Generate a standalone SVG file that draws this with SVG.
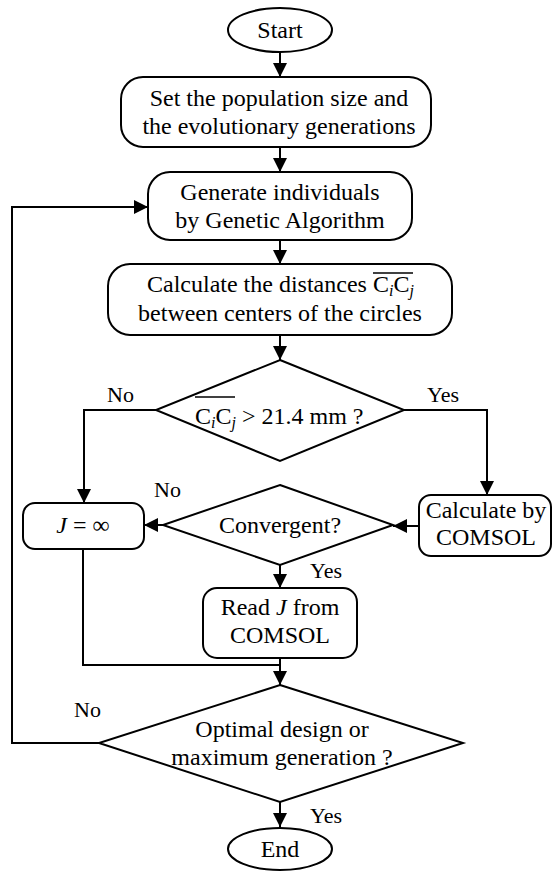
<svg xmlns="http://www.w3.org/2000/svg" width="553" height="871" viewBox="0 0 553 871">
<defs>
<marker id="ah" markerUnits="userSpaceOnUse" markerWidth="14" markerHeight="14" refX="14" refY="7" orient="auto">
<path d="M0,0 L14,7 L0,14 Z" fill="#000"/>
</marker>
<style>
.s{fill:#fff;stroke:#000;stroke-width:2}
.c{fill:none;stroke:#000;stroke-width:2}
.a{fill:none;stroke:#000;stroke-width:2;marker-end:url(#ah)}
text{font-family:"Liberation Serif","Times New Roman",serif;font-size:24px;fill:#000}
.m{text-anchor:middle}
.l{font-size:22px}
.sub{font-style:italic;font-size:16px}
.ol{stroke:#000;stroke-width:1.5}
</style>
</defs>
<rect width="553" height="871" fill="#fff"/>
<g id="connectors">
<path class="a" d="M280,52 V77"/>
<path class="a" d="M280,147 V172"/>
<path class="a" d="M280,240 V264"/>
<path class="a" d="M280,335 V360"/>
<path class="a" d="M156,410 H84 V503"/>
<path class="a" d="M404,410 H487 V495"/>
<path class="a" d="M419,526 H393"/>
<path class="a" d="M163,525 H144"/>
<path class="a" d="M280,565 V588"/>
<path class="c" d="M83,549 V665 H280"/>
<path class="a" d="M280,658 V685"/>
<path class="a" d="M99,743 H12 V207 H148"/>
<path class="a" d="M280,802 V827"/>
<text class="l" x="107" y="402">No</text>
<text class="l" x="427" y="402">Yes</text>
<text class="l" x="154" y="497">No</text>
<text class="l" x="310" y="578">Yes</text>
<text class="l" x="74" y="717">No</text>
<text class="l" x="310" y="823">Yes</text>
</g>
<g id="start">
<ellipse class="s" cx="280" cy="30" rx="52" ry="22"/>
<text class="m" x="280" y="38">Start</text>
</g>
<g id="setpop">
<rect class="s" x="121" y="77" width="310" height="70" rx="22"/>
<text class="m" x="279" y="106">Set the population size and</text>
<text class="m" x="279" y="134">the evolutionary generations</text>
</g>
<g id="generate">
<rect class="s" x="148" y="172" width="264" height="68" rx="22"/>
<text class="m" x="280" y="200">Generate individuals</text>
<text class="m" x="280" y="228">by Genetic Algorithm</text>
</g>
<g id="calcdist">
<rect class="s" x="108" y="264" width="344" height="71" rx="22"/>
<text x="147" y="292">Calculate the distances C<tspan class="sub" dy="4">i</tspan><tspan dy="-4">C</tspan><tspan class="sub" dy="4">j</tspan></text>
<line class="ol" x1="373" y1="273" x2="413" y2="273"/>
<text class="m" x="280" y="321">between centers of the circles</text>
</g>
<g id="check">
<polygon class="s" points="280,360 404,410 280,461 156,410"/>
<text x="195" y="424">C<tspan class="sub" dy="4">i</tspan><tspan dy="-4">C</tspan><tspan class="sub" dy="4">j</tspan><tspan dy="-4"> &gt; 21.4 mm ?</tspan></text>
<line class="ol" x1="195" y1="397" x2="235" y2="397"/>
</g>
<g id="jinf">
<rect class="s" x="23" y="503" width="121" height="46" rx="12"/>
<text class="m" x="83" y="533"><tspan font-style="italic">J</tspan> = ∞</text>
</g>
<g id="convergent">
<polygon class="s" points="280,485 393,525 280,565 163,525"/>
<text class="m" x="280" y="533">Convergent?</text>
</g>
<g id="comsol">
<rect class="s" x="419" y="495" width="132" height="61" rx="12"/>
<text class="m" x="486" y="518">Calculate by</text>
<text class="m" x="486" y="545">COMSOL</text>
</g>
<g id="readj">
<rect class="s" x="203" y="588" width="154" height="70" rx="14"/>
<text class="m" x="280" y="615">Read <tspan font-style="italic">J</tspan> from</text>
<text class="m" x="280" y="643">COMSOL</text>
</g>
<g id="optimal">
<polygon class="s" points="280,685 463,743 280,802 99,743"/>
<text class="m" x="282" y="737">Optimal design or</text>
<text class="m" x="282" y="765">maximum generation ?</text>
</g>
<g id="end">
<ellipse class="s" cx="280" cy="849" rx="52" ry="21"/>
<text class="m" x="280" y="857">End</text>
</g>
</svg>
